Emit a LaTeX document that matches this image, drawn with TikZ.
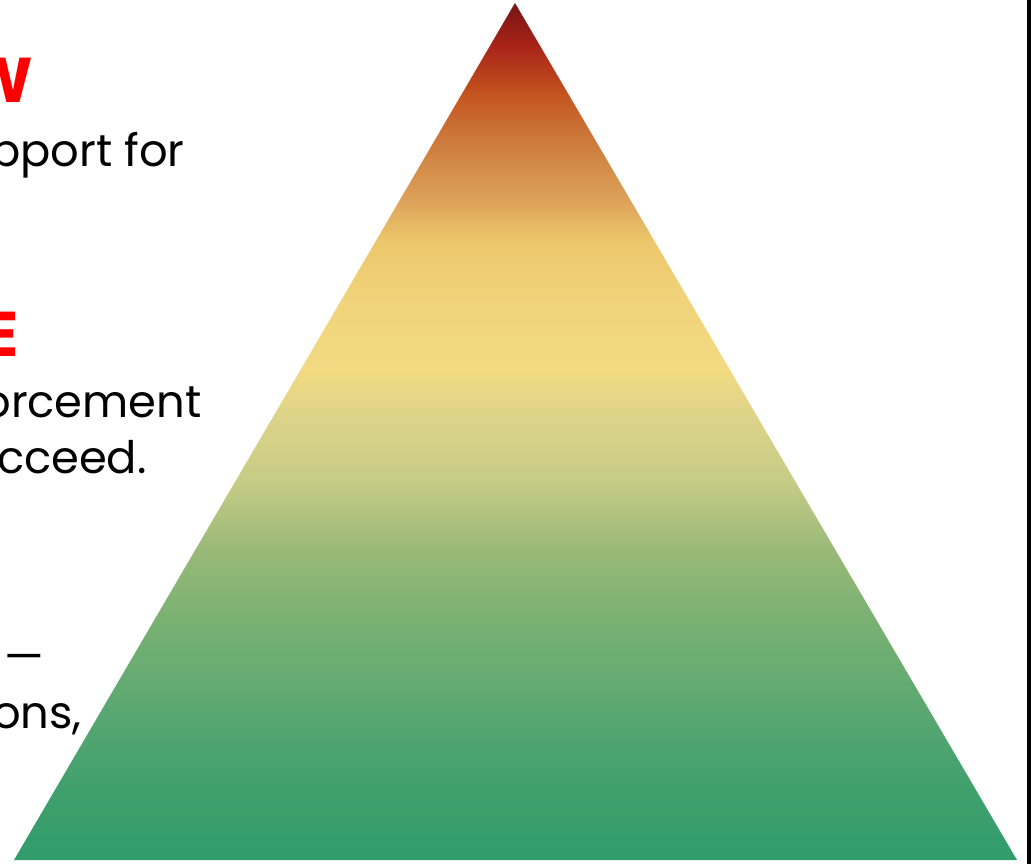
\documentclass[tikz,border=0pt]{standalone}
\usepackage{fontspec}
\setmainfont{Poppins}
\usepackage{tikz}
\usetikzlibrary{positioning}
% colours of the pyramid, bottom to top
\definecolor{PyrGreenA}{HTML}{319C6B}
\definecolor{PyrGreenB}{HTML}{40A06D}
\definecolor{PyrGreenC}{HTML}{57A671}
\definecolor{PyrGreenD}{HTML}{6FAE72}
\definecolor{PyrGreenE}{HTML}{82B374}
\definecolor{PyrOliveA}{HTML}{9AB978}
\definecolor{PyrOliveB}{HTML}{C7CC86}
\definecolor{PyrOliveC}{HTML}{DCD38A}
\definecolor{PyrYellowA}{HTML}{F2DA82}
\definecolor{PyrYellowB}{HTML}{F0D37A}
\definecolor{PyrYellowC}{HTML}{ECC66A}
\definecolor{PyrTan}{HTML}{DCA25A}
\definecolor{PyrOrangeA}{HTML}{CC7A3C}
\definecolor{PyrOrangeB}{HTML}{C4561F}
\definecolor{PyrRedA}{HTML}{A82418}
\definecolor{PyrRedB}{HTML}{7E1616}
\definecolor{HeadRed}{HTML}{FF0000}
\pgfdeclareverticalshading{pyramidfade}{100bp}{%
  color(0bp)=(PyrGreenA); color(25bp)=(PyrGreenA);
  color(29.1bp)=(PyrGreenB); color(33.2bp)=(PyrGreenC);
  color(37.3bp)=(PyrGreenD); color(40.2bp)=(PyrGreenE);
  color(43.1bp)=(PyrOliveA); color(47.2bp)=(PyrOliveB);
  color(50.7bp)=(PyrOliveC); color(53.6bp)=(PyrYellowA);
  color(57.7bp)=(PyrYellowB); color(61.2bp)=(PyrYellowC);
  color(63.5bp)=(PyrTan); color(67bp)=(PyrOrangeA);
  color(69.6bp)=(PyrOrangeB); color(72.5bp)=(PyrRedA);
  color(74.6bp)=(PyrRedB); color(100bp)=(PyrRedB)}
\tikzset{
  % text styles
  headtext/.style={anchor=base east, inner sep=0pt, text=HeadRed, font=\fontsize{36}{40}\selectfont\bfseries},
  bodytext/.style={anchor=base east, inner sep=0pt, text=black, font=\fontsize{25.5}{31}\selectfont},
  % frame line
  frameline/.style={draw=black, line width=2pt}
}
\begin{document}
\begin{tikzpicture}[x=0.02cm, y=-0.02cm]
  \useasboundingbox (0,0) rectangle (1031,864);

  % pyramid
  \coordinate (apex) at (515,3);
  \coordinate (baseR) at (1017,860);
  \coordinate (baseL) at (14,860);
  \shade[shading=pyramidfade] (apex) -- (baseR) -- (baseL) -- cycle;

  % cut-off text on the left
  \node[headtext] (headTop) at (33,103) {W};
  \node[bodytext] (lineTop) at (185,167) {pport for};

  \node[headtext] (headMid) at (19,357) {E};
  \node[bodytext] (lineMidA) at (202,418) {orcement};
  \node[bodytext] (lineMidB) at (147,474) {cceed.};

  \node[bodytext] (lineLowA) at (45,672) {—};
  \node[bodytext] (lineLowB) at (82,728) {ons,};

  % right frame edge
  \coordinate (frameTop) at (1029,0);
  \coordinate (frameBot) at (1029,864);
  \draw[frameline] (frameTop) -- (frameBot);
\end{tikzpicture}
\end{document}
